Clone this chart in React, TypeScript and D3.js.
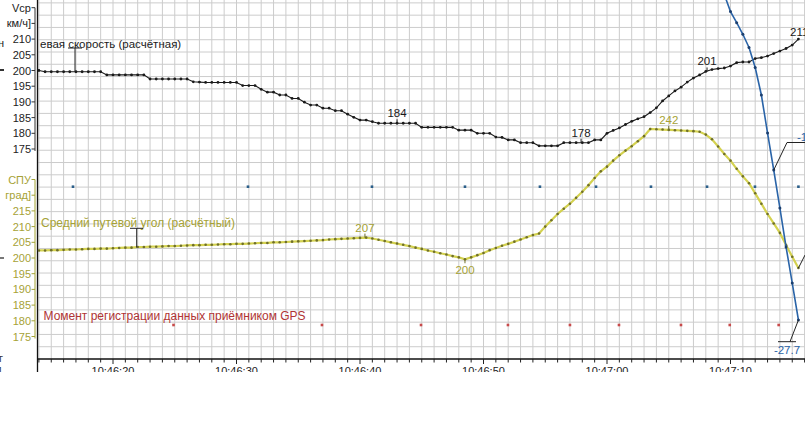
import React from 'react';
import * as d3 from 'd3';

const W = 805;
const H = 422;

// time in seconds after 10:46:00
const T_START = 14;
const T_STEP = 0.5;

// Путевая скорость (км/ч), one value every 0.5 s from 10:46:14
const speedValues = [
  200.0, 199.6, 199.6, 199.6, 199.6, 199.6, 199.6, 199.6, 199.6, 199.6,
  199.6, 198.6, 198.6, 198.6, 198.6, 198.6, 198.6, 198.6, 197.3, 197.3,
  197.3, 197.3, 197.3, 197.3, 197.3, 196.4, 196.3, 196.2, 196.2, 196.2,
  196.2, 196.2, 196.2, 195.2, 195.2, 195.2, 194.0, 193.1, 193.1, 192.2,
  192.2, 191.1, 191.1, 189.9, 189.0, 189.0, 188.0, 188.0, 187.2, 187.2,
  186.1, 185.1, 184.2, 184.2, 183.7, 183.2, 183.2, 183.2, 183.2, 183.2,
  183.2, 183.2, 181.9, 181.9, 181.9, 181.9, 181.9, 181.9, 181.0, 181.0,
  181.0, 180.0, 180.0, 180.0, 178.8, 178.7, 177.9, 177.9, 177.0, 177.0,
  177.0, 176.0, 176.0, 176.0, 176.0, 177.0, 177.0, 177.0, 177.0, 177.0,
  177.9, 177.9, 180.0, 180.9, 181.7, 182.8, 183.8, 184.6, 185.3, 186.6,
  188.1, 190.3, 191.9, 193.5, 194.7, 196.3, 197.6, 198.6, 199.7, 200.3,
  200.6, 200.8, 201.4, 202.5, 202.7, 202.7, 203.8, 204.1, 204.6, 205.4,
  206.2, 207.0, 208.1, 210.0,
];

// Средний путевой угол (град), one value every 0.5 s from 10:46:14
const courseValues = [
  202.4, 202.4, 202.5, 202.5, 202.6, 202.7, 202.7, 202.8, 202.9, 202.9,
  203.0, 203.0, 203.1, 203.2, 203.3, 203.3, 203.5, 203.5, 203.6, 203.6,
  203.7, 203.8, 203.8, 203.9, 204.0, 204.1, 204.1, 204.2, 204.2, 204.3,
  204.4, 204.4, 204.5, 204.5, 204.6, 204.7, 204.8, 204.8, 205.0, 205.0,
  205.1, 205.2, 205.3, 205.4, 205.5, 205.6, 205.7, 205.9, 206.0, 206.1,
  206.2, 206.3, 206.4, 206.5, 206.2, 205.8, 205.4, 205.0, 204.6, 204.2,
  203.8, 203.3, 202.9, 202.4, 202.0, 201.5, 201.1, 200.6, 200.2, 199.6,
  200.2, 200.9, 201.6, 202.5, 203.2, 203.9, 204.5, 205.2, 205.9, 206.6,
  207.3, 207.8, 210.0, 212.0, 214.0, 215.7, 217.3, 219.2, 221.1, 223.2,
  225.5, 227.6, 229.1, 231.0, 232.7, 234.2, 235.6, 237.2, 238.8, 241.1,
  241.0, 240.9, 240.8, 240.7, 240.6, 240.5, 240.4, 240.2, 239.3, 237.8,
  235.5, 233.1, 231.0, 228.4, 226.0, 223.8, 220.6, 217.3, 214.0, 211.0,
  208.0, 204.1, 200.4, 196.8,
];

// third (blue) series, own hidden scale
const blueTimes = [69.5, 70, 70.5, 71, 71.5, 72, 72.5, 73, 73.5, 74, 74.5, 75, 75.5];
const blueValues = [3.1, 1.5, 0.45, -0.65, -1.9, -3.8, -6.4, -10.0, -13.5, -17.1, -20.8, -24.2, -27.7];

const blueDotTimes = [16.76, 30.93, 40.97, 48.5, 54.57, 59.11, 63.56, 68.1, 71.98, 75.5];
const gpsDotTimes = [24.9, 36.92, 44.94, 51.98, 57.0, 60.97, 65.99, 69.94, 73.9];

const timeTicks = [20, 30, 40, 50, 60, 70];
const timeTickLabels = ['10:46:20', '10:46:30', '10:46:40', '10:46:50', '10:47:00', '10:47:10'];

const speedTicks = [175, 180, 185, 190, 195, 200, 205, 210];
const speedTitleTicks = [215, 220];
const speedTitleLabels = ['км/ч]', 'Vcp'];
const courseTicks = [175, 180, 185, 190, 195, 200, 205, 210, 215];
const courseTitleTicks = [220, 225];
const courseTitleLabels = ['град]', 'СПУ'];

const speedNoteTimes = [43.0, 57.9, 68.1];
const speedNoteValues = [183.2, 177.0, 199.7];
const speedNoteLabels = ['184', '178', '201'];
const courseNoteTimes = [40.4, 48.5, 65.0];
const courseNoteValues = [206.5, 199.6, 240.8];
const courseNoteLabels = ['207', '200', '242'];

const FONT = '"Liberation Sans", Arial, sans-serif';
const OLIVE = '#a3a335';
const OLIVE_TEXT = '#a6a236';
const YELLOW = '#d4d250';
const BLUE = '#2a64a8';
const RED = '#b03434';

export default function App() {
  const x = d3.scaleLinear().domain([20, 70]).range([113, 730.5]);
  const ySpeed = d3.scaleLinear().domain([200, 175]).range([70.5, 149]);
  const yCourse = d3.scaleLinear().domain([200, 175]).range([258, 336.5]);
  const yBlue = d3.scaleLinear().domain([0, -27.7]).range([27.4, 320]);

  const speedPts: [number, number][] = speedValues.map((v, i) => [x(T_START + i * T_STEP), ySpeed(v)]);
  const coursePts: [number, number][] = courseValues.map((v, i) => [x(T_START + i * T_STEP), yCourse(v)]);
  const bluePts: [number, number][] = blueValues.map((v, i) => [x(blueTimes[i]), yBlue(v)]);
  const line = d3.line();

  const axisY = 359;
  const axisX = 37.5;
  const gridStep = 12.28;
  const hGrid: number[] = [];
  for (let k = 1; k <= 30; k++) hGrid.push(axisY - gridStep * k);
  const secs = d3.range(14, 77);

  const last = bluePts[bluePts.length - 1];
  const mid = bluePts[8];
  const cEnd = coursePts[coursePts.length - 1];

  return (
    <svg width={W} height={H} style={{ position: 'fixed', left: 0, top: 0, background: '#fff' }} fontFamily={FONT}>
      <defs>
        <clipPath id="plot"><rect x={axisX} y={0} width={W} height={axisY - 0.5} /></clipPath>
        <clipPath id="cut"><rect x={0} y={0} width={W} height={372} /></clipPath>
      </defs>
      <rect x={0} y={0} width={W} height={H} fill="#fff" />
      {/* grid */}
      <g stroke="#cccccc" strokeWidth={1}>
        {secs.map((s) => (
          <line key={'v' + s} x1={x(s)} x2={x(s)} y1={0} y2={axisY} />
        ))}
        {hGrid.map((y, i) => (
          <line key={'h' + i} x1={axisX} x2={W} y1={y} y2={y} />
        ))}
      </g>

      {/* left fragments of neighbouring panel */}
      <text x={-2} y={47} fontSize={11} fill="#222">н</text>
      <rect x={0} y={69} width={4} height={2} fill="#333" />
      <rect x={0} y={257} width={4} height={2} fill="#777" />

      <g clipPath="url(#cut)">
        {/* main frame */}
        <line x1={axisX} x2={axisX} y1={0} y2={372} stroke="#111" strokeWidth={1.3} />
        <line x1={axisX} x2={W} y1={axisY} y2={axisY} stroke="#111" strokeWidth={1.3} />
        {secs.map((s) => (
          <line key={'t' + s} x1={x(s)} x2={x(s)} y1={axisY} y2={axisY + (s % 10 === 0 ? 5 : 3.5)} stroke="#222" strokeWidth={1} />
        ))}
        {timeTicks.map((t, i) => (
          <text key={'tl' + i} x={x(t)} y={375} fontSize={11} textAnchor="middle" fill="#222">{timeTickLabels[i]}</text>
        ))}
        <text x={-1} y={362} fontSize={11} fill="#333">г</text>
        <text x={-3} y={375} fontSize={11} fill="#333">1</text>
      </g>

      {/* speed axis */}
      <line x1={35} x2={35} y1={ySpeed(220)} y2={ySpeed(175) + 2} stroke="#333" strokeWidth={1} />
      {speedTicks.map((v) => (
        <g key={'s' + v}>
          <line x1={31.5} x2={35} y1={ySpeed(v)} y2={ySpeed(v)} stroke="#333" />
          <text x={31} y={ySpeed(v) + 4} fontSize={11} textAnchor="end" fill="#222">{v}</text>
        </g>
      ))}
      {speedTitleTicks.map((v, i) => (
        <g key={'st' + v}>
          <line x1={31.5} x2={35} y1={ySpeed(v)} y2={ySpeed(v)} stroke="#333" />
          <text x={31} y={ySpeed(v) + 4} fontSize={11} textAnchor="end" fill="#222">{speedTitleLabels[i]}</text>
        </g>
      ))}

      {/* course axis */}
      <line x1={35} x2={35} y1={yCourse(225)} y2={yCourse(175) + 2} stroke={OLIVE} strokeWidth={1} />
      {courseTicks.map((v) => (
        <g key={'c' + v}>
          <line x1={31.5} x2={35} y1={yCourse(v)} y2={yCourse(v)} stroke={OLIVE} />
          <text x={31} y={yCourse(v) + 4} fontSize={11} textAnchor="end" fill={OLIVE_TEXT}>{v}</text>
        </g>
      ))}
      {courseTitleTicks.map((v, i) => (
        <g key={'ct' + v}>
          <line x1={31.5} x2={35} y1={yCourse(v)} y2={yCourse(v)} stroke={OLIVE} />
          <text x={31} y={yCourse(v) + 4} fontSize={11} textAnchor="end" fill={OLIVE_TEXT}>{courseTitleLabels[i]}</text>
        </g>
      ))}

      <g clipPath="url(#plot)">
        {/* blue / red marker rows */}
        {blueDotTimes.map((t, i) => (
          <rect key={'bd' + i} x={x(t) - 1.3} y={186.7 - 1.3} width={2.6} height={2.6} fill="#2b5f8a" />
        ))}
        {gpsDotTimes.map((t, i) => (
          <rect key={'rd' + i} x={x(t) - 1.3} y={325 - 1.3} width={2.6} height={2.6} fill="#c84a4a" />
        ))}

        {/* course (yellow) */}
        <path d={line(coursePts) || ''} fill="none" stroke={YELLOW} strokeWidth={2.2} />
        {coursePts.map((p, i) => (
          <circle key={'cp' + i} cx={p[0]} cy={p[1]} r={1.3} fill="#6f6f2a" />
        ))}

        {/* speed (black) */}
        <path d={line(speedPts) || ''} fill="none" stroke="#1a1a1a" strokeWidth={1.1} />
        {speedPts.map((p, i) => (
          <circle key={'sp' + i} cx={p[0]} cy={p[1]} r={1.4} fill="#1a1a1a" />
        ))}

        {/* blue */}
        <path d={line(bluePts) || ''} fill="none" stroke={BLUE} strokeWidth={1.6} />
        {bluePts.map((p, i) => (
          <circle key={'bp' + i} cx={p[0]} cy={p[1]} r={1.5} fill="#1c3f6e" />
        ))}
      </g>

      {/* series labels with pointers */}
      <text x={40} y={47.5} fontSize={11.5} fill="#1a1a1a">евая скорость (расчётная)</text>
      <line x1={75} x2={75} y1={48} y2={71} stroke="#222" strokeWidth={1} />
      <line x1={68} x2={82} y1={48} y2={48} stroke="#222" strokeWidth={1} />

      <text x={41} y={227} fontSize={12} fill={OLIVE_TEXT}>Средний путевой угол (расчётный)</text>
      <line x1={136.7} x2={136.7} y1={228.3} y2={247.5} stroke="#222" strokeWidth={1} />
      <line x1={130} x2={143} y1={228.3} y2={228.3} stroke="#222" strokeWidth={1} />

      <text x={43.5} y={319.5} fontSize={12} fill={RED}>Момент регистрации данных приёмником GPS</text>

      {/* value notes */}
      {speedNoteTimes.map((t, i) => (
        <g key={'sn' + i}>
          <line x1={x(t)} x2={x(t)} y1={ySpeed(speedNoteValues[i]) - 4} y2={ySpeed(speedNoteValues[i])} stroke="#222" />
          <text x={x(t)} y={ySpeed(speedNoteValues[i]) - 6} fontSize={11.5} textAnchor="middle" fill="#1a1a1a">{speedNoteLabels[i]}</text>
        </g>
      ))}
      <text x={790} y={36} fontSize={11.5} fill="#1a1a1a">211</text>

      {courseNoteTimes.map((t, i) => {
        const below = courseNoteLabels[i] === '200';
        const yv = yCourse(courseNoteValues[i]);
        return (
          <g key={'cn' + i}>
            <line x1={x(t)} x2={x(t)} y1={below ? yv : yv - 4} y2={below ? yv + 4 : yv} stroke="#6f6f2a" />
            <text x={x(t)} y={below ? yv + 14.5 : yv - 6} fontSize={11.5} textAnchor="middle" fill={OLIVE_TEXT}>{courseNoteLabels[i]}</text>
          </g>
        );
      })}

      {/* leaders on the right */}
      <polyline points={`${mid[0]},${mid[1]} 787,142.5 ${W},142.5`} fill="none" stroke="#222" strokeWidth={1} />
      <text x={797} y={141} fontSize={11.5} fill={BLUE}>-13.5</text>
      <polyline points={`${last[0]},${last[1]} 790,341.7`} fill="none" stroke="#222" strokeWidth={1} />
      <line x1={778} x2={796} y1={341.7} y2={341.7} stroke="#222" strokeWidth={1} />
      <text x={787} y={354} fontSize={11.5} textAnchor="middle" fill={BLUE}>-27.7</text>
      <line x1={cEnd[0]} x2={W} y1={cEnd[1]} y2={cEnd[1] - 13} stroke="#222" strokeWidth={1} />
    </svg>
  );
}
